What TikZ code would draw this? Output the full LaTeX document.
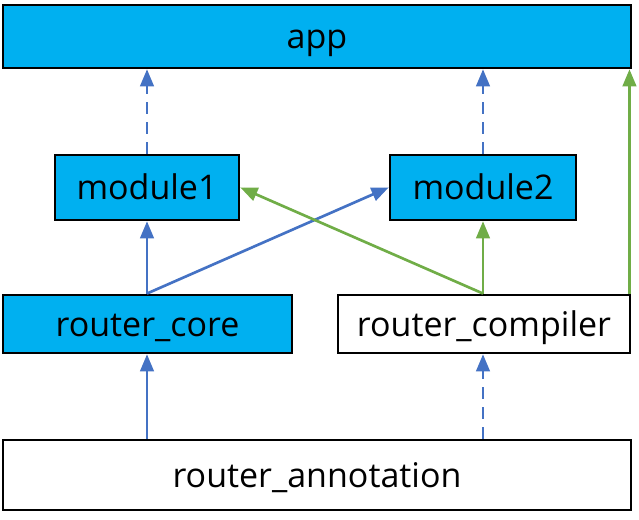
\documentclass[tikz,border=0pt]{standalone}
\usepackage{fontspec}
\setmainfont{Open Sans}
\usetikzlibrary{arrows}
\definecolor{boxcyan}{HTML}{00B0F0}
\definecolor{linkblue}{HTML}{4472C4}
\definecolor{linkgreen}{HTML}{70AD47}
\begin{document}
\begin{tikzpicture}[line cap=butt,line join=miter,>=triangle 45,x=0.75pt,y=-0.75pt,
  box/.style={draw=black,line width=2.2pt,inner sep=0pt,text height=24pt,text depth=6pt,font=\fontsize{25.5}{30}\selectfont},
  filled/.style={box,fill=boxcyan},
  plain/.style={box,fill=white},
  blue link/.style={->,color=linkblue,line width=2pt},
  green link/.style={->,color=linkgreen,line width=2pt},
  dash link/.style={blue link,dash pattern=on 9pt off 6pt}]
\useasboundingbox (0,0) rectangle (639,520);
%boksit
\node [filled,minimum width=628*0.75pt,minimum height=63*0.75pt] (app) at (317,36.5) {app};
\node [filled,minimum width=184*0.75pt,minimum height=65*0.75pt] (module1) at (147,187.5) {module1};
\node [filled,minimum width=186*0.75pt,minimum height=65*0.75pt] (module2) at (483,187.5) {module2};
\node [filled,minimum width=289*0.75pt,minimum height=58*0.75pt] (core) at (147.5,324) {router\_core};
\node [plain,minimum width=292*0.75pt,minimum height=58*0.75pt] (compiler) at (484,324) {router\_compiler};
\node [plain,minimum width=628*0.75pt,minimum height=70*0.75pt] (annotation) at (317,475) {router\_annotation};
\coordinate (core top) at (module1.south |- core.north);
\coordinate (compiler top) at (module2.south |- compiler.north);
\coordinate (compiler corner) at ([xshift=-2*0.75pt]compiler.north east);

%nuolet
\draw[dash link] (module1.north) -- (module1.north |- app.south);
\draw[dash link] (module2.north) -- (module2.north |- app.south);
\draw[blue link] (core top) -- (module1.south);
\draw[blue link] (core top) -- (module2.west);
\draw[green link] (compiler top) -- (module2.south);
\draw[green link] (compiler top) -- (module1.east);
\draw[green link] (compiler corner) -- (compiler corner |- app.south);
\draw[blue link] (core top |- annotation.north) -- (core top |- core.south);
\draw[dash link] (compiler top |- annotation.north) -- (compiler top |- compiler.south);
\end{tikzpicture}
\end{document}
